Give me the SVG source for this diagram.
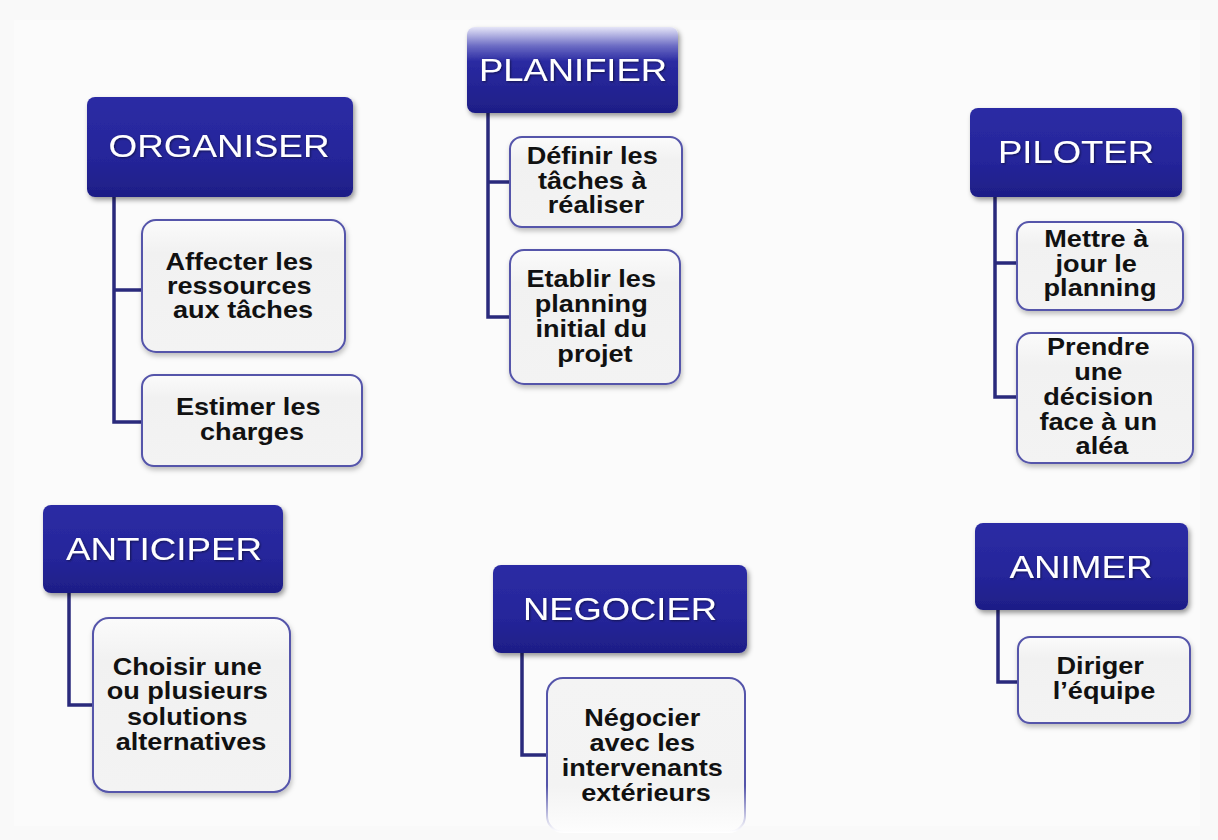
<svg xmlns="http://www.w3.org/2000/svg" width="1218" height="840" viewBox="0 0 1218 840">
  <defs>
    <linearGradient id="headFill" x1="0" y1="0" x2="0" y2="1">
      <stop offset="0" stop-color="#2c2ca4"/>
      <stop offset="0.6" stop-color="#25259a"/>
      <stop offset="1" stop-color="#1e1e86"/>
    </linearGradient>
    <linearGradient id="headGloss" x1="0" y1="0" x2="0" y2="1">
      <stop offset="0" stop-color="#e6e6f8"/>
      <stop offset="0.22" stop-color="#6c6cc4"/>
      <stop offset="0.4" stop-color="#2a2aa2"/>
      <stop offset="1" stop-color="#1e1e86"/>
    </linearGradient>
    <linearGradient id="childFill" x1="0" y1="0" x2="0" y2="1">
      <stop offset="0" stop-color="#fbfbfb"/>
      <stop offset="0.25" stop-color="#f1f1f1"/>
      <stop offset="1" stop-color="#f3f3f3"/>
    </linearGradient>
    <linearGradient id="fadeStroke" x1="0" y1="0" x2="0" y2="1">
      <stop offset="0" stop-color="#5454aa"/>
      <stop offset="0.7" stop-color="#5454aa"/>
      <stop offset="1" stop-color="#ffffff"/>
    </linearGradient>
    <linearGradient id="fadeFill" x1="0" y1="0" x2="0" y2="1">
      <stop offset="0" stop-color="#f4f4f4"/>
      <stop offset="0.7" stop-color="#f3f3f3"/>
      <stop offset="1" stop-color="#fdfdfd"/>
    </linearGradient>
    <filter id="shadow" x="-10%" y="-10%" width="125%" height="135%">
      <feDropShadow dx="2" dy="3" stdDeviation="2.5" flood-color="#000" flood-opacity="0.4"/>
    </filter>
    <filter id="softShadow" x="-10%" y="-10%" width="125%" height="130%">
      <feDropShadow dx="1" dy="3" stdDeviation="2.5" flood-color="#000" flood-opacity="0.25"/>
    </filter>
    <filter id="txtShadow" x="-5%" y="-20%" width="110%" height="150%">
      <feDropShadow dx="1" dy="1" stdDeviation="0.8" flood-color="#000" flood-opacity="0.5"/>
    </filter>
  </defs>
  <style>
    .head { fill: url(#headFill); filter: url(#shadow); }
    .headTxt { font-family: "Liberation Sans", Arial, sans-serif; font-size: 32px; fill: #ffffff; text-anchor: middle; filter: url(#txtShadow); }
    .child { fill: url(#childFill); stroke: #5454aa; stroke-width: 2; filter: url(#softShadow); }
    .childTxt { font-family: "Liberation Sans", Arial, sans-serif; font-size: 24px; font-weight: bold; fill: #111111; text-anchor: middle; }
    .link { fill: none; stroke: #2a2a7c; stroke-width: 3.5; }
  </style>

  <rect x="0" y="0" width="1218" height="840" fill="#f9f9f9"/>
  <rect x="14" y="20" width="1186" height="806" fill="#fbfbfb"/>

  <!-- tree connectors -->
  <g id="connectors">
    <path class="link" d="M114 197 V422 H142 M114 290 H142"/>
    <path class="link" d="M488 113 V317 H510 M488 182 H510"/>
    <path class="link" d="M995 197 V397 H1017 M995 263 H1017"/>
    <path class="link" d="M69 593 V705 H93"/>
    <path class="link" d="M522 653 V755 H547"/>
    <path class="link" d="M998 610 V682 H1018"/>
  </g>

  <!-- ORGANISER -->
  <g id="organiser">
    <rect class="head" x="87" y="97" width="266" height="100" rx="8"/>
    <text class="headTxt" x="219" y="157" textLength="221" lengthAdjust="spacingAndGlyphs">ORGANISER</text>
  </g>
  <g id="organiser-affecter">
    <rect class="child" x="142" y="220" width="203" height="132" rx="14"/>
    <text class="childTxt" transform="translate(243 0) scale(1.13 1)">
      <tspan x="0" y="270">Affecter les</tspan>
      <tspan x="0" y="294">ressources</tspan>
      <tspan x="0" y="318">aux tâches</tspan>
    </text>
  </g>
  <g id="organiser-estimer">
    <rect class="child" x="142" y="375" width="220" height="91" rx="12"/>
    <text class="childTxt" transform="translate(252 0) scale(1.13 1)">
      <tspan x="0" y="415">Estimer les</tspan>
      <tspan x="0" y="440">charges</tspan>
    </text>
  </g>

  <!-- PLANIFIER -->
  <g id="planifier">
    <rect x="467" y="27" width="211" height="86" rx="8" fill="url(#headGloss)" filter="url(#shadow)"/>
    <text class="headTxt" x="573" y="81" textLength="188" lengthAdjust="spacingAndGlyphs">PLANIFIER</text>
  </g>
  <g id="planifier-definir">
    <rect class="child" x="510" y="137" width="172" height="90" rx="12"/>
    <text class="childTxt" transform="translate(596 0) scale(1.13 1)">
      <tspan x="0" y="164">Définir les</tspan>
      <tspan x="0" y="189">tâches à</tspan>
      <tspan x="0" y="213">réaliser</tspan>
    </text>
  </g>
  <g id="planifier-etablir">
    <rect class="child" x="510" y="250" width="170" height="134" rx="14"/>
    <text class="childTxt" transform="translate(595 0) scale(1.13 1)">
      <tspan x="0" y="287">Etablir les</tspan>
      <tspan x="0" y="312">planning</tspan>
      <tspan x="0" y="337">initial du</tspan>
      <tspan x="0" y="362">projet</tspan>
    </text>
  </g>

  <!-- PILOTER -->
  <g id="piloter">
    <rect class="head" x="970" y="108" width="212" height="89" rx="8"/>
    <text class="headTxt" x="1076" y="163" textLength="156" lengthAdjust="spacingAndGlyphs">PILOTER</text>
  </g>
  <g id="piloter-mettre">
    <rect class="child" x="1017" y="222" width="166" height="88" rx="12"/>
    <text class="childTxt" transform="translate(1100 0) scale(1.13 1)">
      <tspan x="0" y="247">Mettre à</tspan>
      <tspan x="0" y="272">jour le</tspan>
      <tspan x="0" y="296">planning</tspan>
    </text>
  </g>
  <g id="piloter-prendre">
    <rect class="child" x="1017" y="333" width="176" height="130" rx="14"/>
    <text class="childTxt" transform="translate(1102 0) scale(1.13 1)">
      <tspan x="0" y="355">Prendre</tspan>
      <tspan x="0" y="380">une</tspan>
      <tspan x="0" y="405">décision</tspan>
      <tspan x="0" y="430">face à un</tspan>
      <tspan x="0" y="454">aléa</tspan>
    </text>
  </g>

  <!-- ANTICIPER -->
  <g id="anticiper">
    <rect class="head" x="43" y="505" width="240" height="88" rx="8"/>
    <text class="headTxt" x="164" y="560" textLength="196" lengthAdjust="spacingAndGlyphs">ANTICIPER</text>
  </g>
  <g id="anticiper-choisir">
    <rect class="child" x="93" y="618" width="197" height="174" rx="16"/>
    <text class="childTxt" transform="translate(191 0) scale(1.13 1)">
      <tspan x="0" y="675">Choisir une</tspan>
      <tspan x="0" y="699">ou plusieurs</tspan>
      <tspan x="0" y="725">solutions</tspan>
      <tspan x="0" y="750">alternatives</tspan>
    </text>
  </g>

  <!-- NEGOCIER -->
  <g id="negocier">
    <rect class="head" x="493" y="565" width="254" height="88" rx="8"/>
    <text class="headTxt" x="620" y="620" textLength="194" lengthAdjust="spacingAndGlyphs">NEGOCIER</text>
  </g>
  <g id="negocier-negocier">
    <rect x="547" y="678" width="198" height="154" rx="16" fill="url(#fadeFill)" stroke="url(#fadeStroke)" stroke-width="2"/>
    <text class="childTxt" transform="translate(646 0) scale(1.13 1)">
      <tspan x="0" y="726">Négocier</tspan>
      <tspan x="0" y="751">avec les</tspan>
      <tspan x="0" y="776">intervenants</tspan>
      <tspan x="0" y="801">extérieurs</tspan>
    </text>
  </g>

  <!-- ANIMER -->
  <g id="animer">
    <rect class="head" x="975" y="523" width="213" height="87" rx="8"/>
    <text class="headTxt" x="1081" y="578" textLength="143" lengthAdjust="spacingAndGlyphs">ANIMER</text>
  </g>
  <g id="animer-diriger">
    <rect class="child" x="1018" y="637" width="172" height="86" rx="12"/>
    <text class="childTxt" transform="translate(1104 0) scale(1.13 1)">
      <tspan x="0" y="674">Diriger</tspan>
      <tspan x="0" y="699">l’équipe</tspan>
    </text>
  </g>
</svg>
